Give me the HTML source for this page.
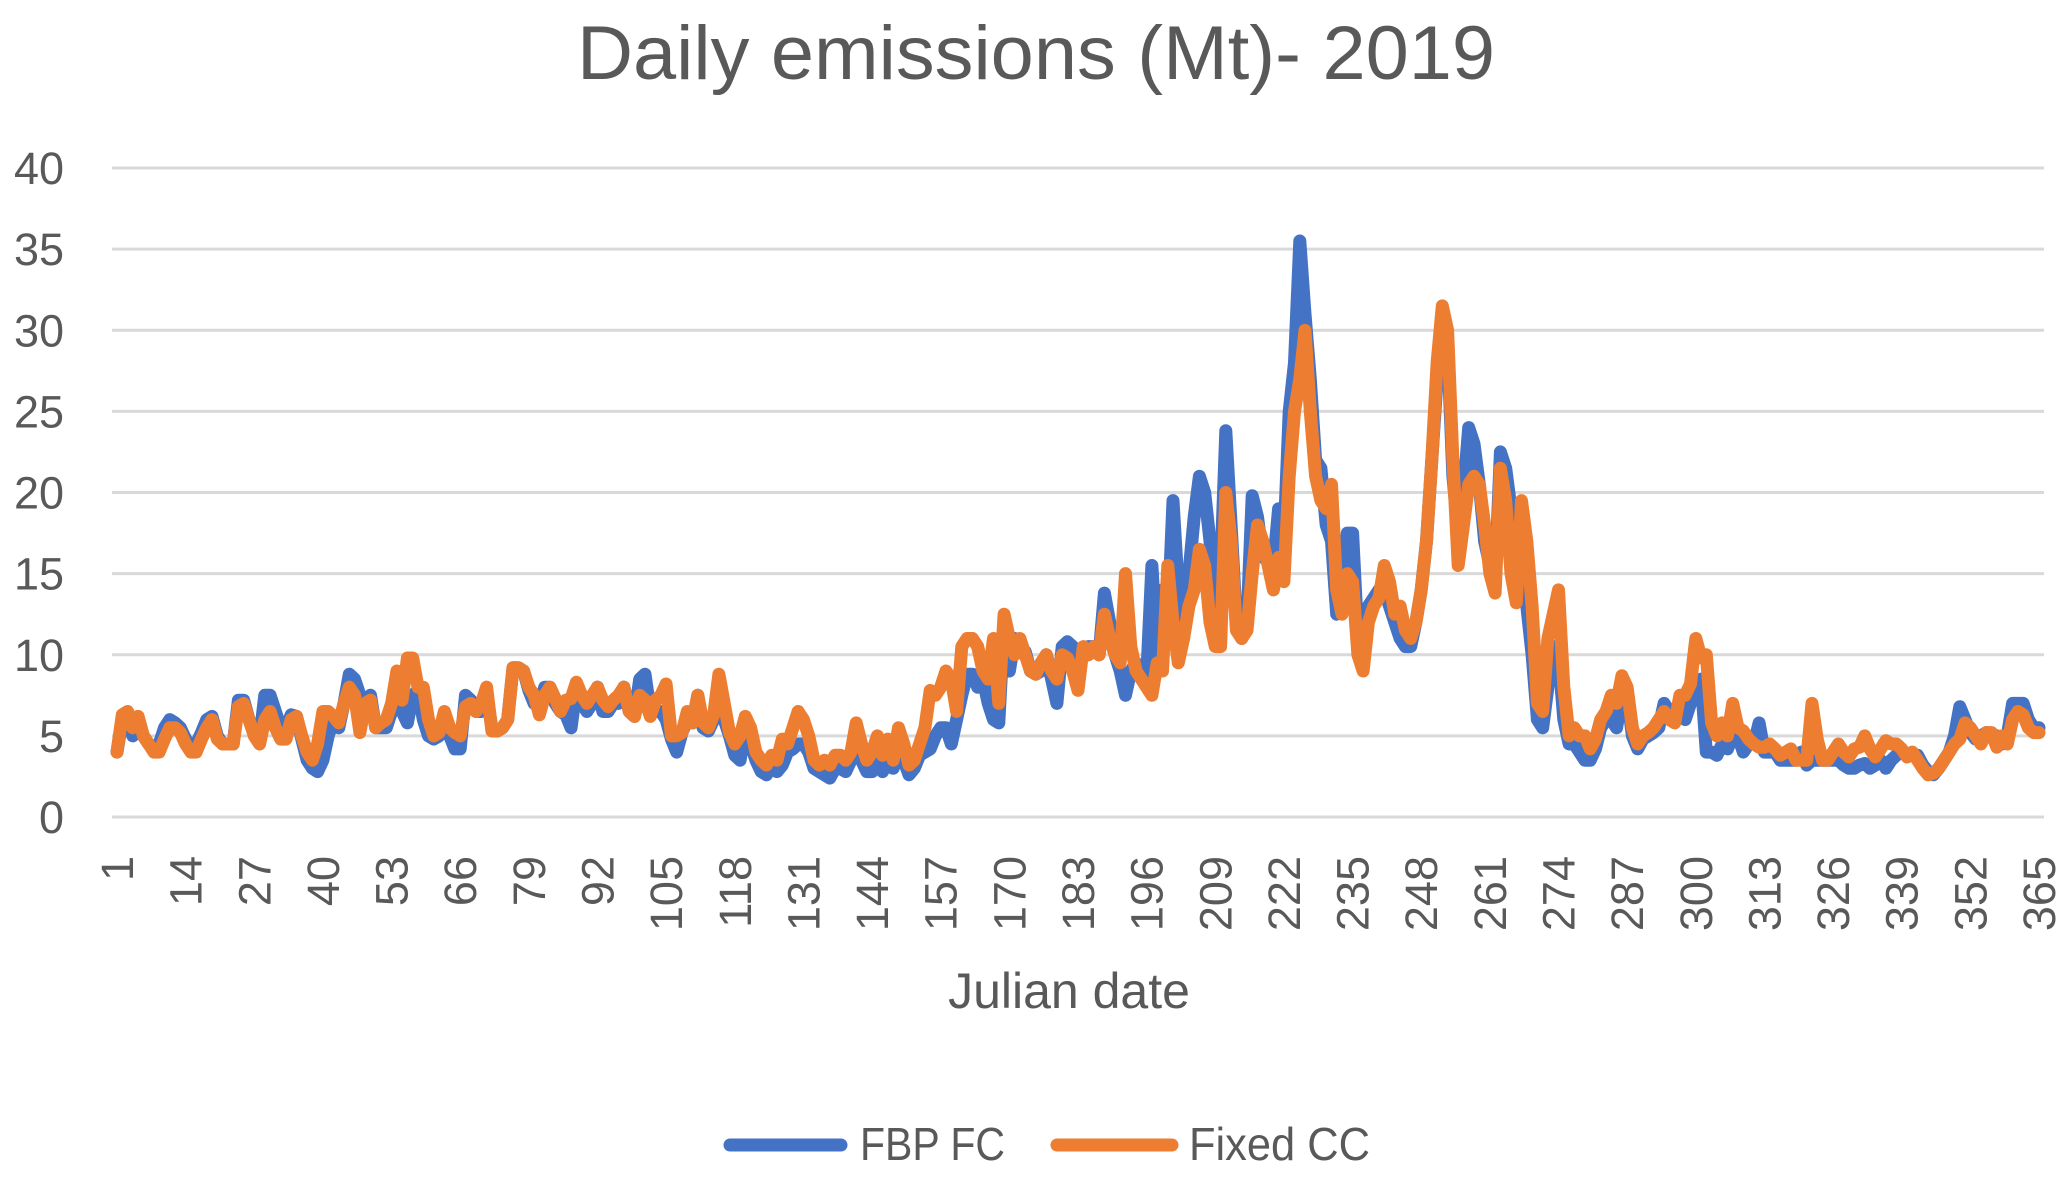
<!DOCTYPE html>
<html><head><meta charset="utf-8"><style>
html,body{margin:0;padding:0;background:#fff;}
svg{display:block;font-family:"Liberation Sans",sans-serif;}
</style></head><body>
<svg id="chart" width="2067" height="1179" viewBox="0 0 2067 1179">
<text x="1036" y="79" font-size="76" fill="#595959" text-anchor="middle" textLength="918" lengthAdjust="spacingAndGlyphs">Daily emissions (Mt)- 2019</text>
<g id="grid"></g>
<g id="yticks"></g>
<g id="xticks"></g>
<g id="series"></g>
<text x="1069" y="1008" font-size="50" fill="#595959" text-anchor="middle">Julian date</text>
<g>
<g>
<line x1="730" y1="1145" x2="841" y2="1145" stroke="#4472C4" stroke-width="13" stroke-linecap="round"/>
<text x="860" y="1160" font-size="46" fill="#595959" textLength="145" lengthAdjust="spacingAndGlyphs">FBP FC</text>
</g>
<g>
<line x1="1057" y1="1145" x2="1172" y2="1145" stroke="#ED7D31" stroke-width="13" stroke-linecap="round"/>
<text x="1189" y="1160" font-size="46" fill="#595959" textLength="181" lengthAdjust="spacingAndGlyphs">Fixed CC</text>
</g>
</g>
</svg>
<script>
const yTicks = [0,5,10,15,20,25,30,35,40];
const xTickDays = [1,14,27,40,53,66,79,92,105,118,131,144,157,170,183,196,209,222,235,248,261,274,287,300,313,326,339,352,365];
const fixedCC = [
4,6.3,6.5,5.5,6.2,5,4.5,4,4,4.8,5.5,5.5,5.2,
4.5,4,4,4.8,5.5,6,4.8,4.5,4.5,4.5,6.8,7,6,
5,4.5,6,6.5,5.5,4.8,4.8,6,6.2,5,4,3.5,4.5,
6.5,6.5,6.2,5.8,7,8,7.5,5.2,7,7.2,5.5,5.8,6,
7,9,7.2,9.8,9.8,8,8,6,5,5.2,6.5,5.5,5.2,
5,6.8,7,6.5,7,8,5.3,5.3,5.5,6,9.2,9.2,9,
8,7.5,6.3,7.5,8,7.3,6.5,7.2,7.3,8.3,7.5,7,7.5,
8,7.2,6.8,7.2,7.5,8,6.5,6.2,7.5,7.2,6.2,7.2,7.5,
8.2,5,5,5.2,6.5,5.8,7.5,5.8,5.5,6.3,8.8,7,5.2,
4.5,5,6.2,5.5,4,3.5,3.2,3.8,3.5,4.8,4.5,5.5,6.5,
6,5,3.5,3.2,3.5,3.2,3.8,3.8,3.5,4,5.8,4.5,3.5,
4,5,3.8,4.8,3.5,5.5,4.5,3.2,3.5,4.5,5.5,7.8,7.5,
8,9,8.5,6.5,10.5,11,11,10.5,9,8.5,11,7,12.5,
11,10,11,10,9,8.8,9.5,10,9,8.5,10,9.8,9,
7.8,10.5,10,10.5,10,12.5,11,10,9.5,15,10.5,9,8.5,
8,7.5,9.5,9,15.5,12,9.5,11,13,14,16.5,15.5,12,
10.5,10.5,20,17,11.5,11,11.5,15,18,17,15.5,14,16,
14.5,21,25,27,30,25,21,19.5,19,20.5,14,12.5,15,
14.5,10,9,12,13,13.5,15.5,14.5,12.5,13,11.5,11,12,
14,17,22,28,31.5,30,22,15.5,18,20.5,21,20.5,18,
15,13.8,21.5,19.5,15,13.2,19.5,17,13,7,6.5,11,12.5,
14,8,5,5.5,5,5,4.2,4.8,6,6.5,7.5,7,8.7,
8,5.5,4.5,5,5.2,5.5,6,6.5,6,5.8,7.5,7.5,8.2,
11,9.8,10,5.8,5,5.8,5,7,5.5,5.3,4.8,4.5,4.3,
4.3,4.5,4.2,3.8,4,4.2,3.5,3.5,3.5,7,4.8,3.5,3.5,
4,4.5,4,3.7,4.2,4.3,5,4.2,3.7,4.2,4.7,4.5,4.5,
4.2,3.7,4,3.5,3,2.6,2.7,3,3.5,4,4.5,4.8,5.8,
5.5,5,4.5,5.2,5.2,4.3,5,4.5,6,6.5,6.3,5.5,5.2,5.2];
const fbpFC = [
4,6,6,5,5.5,5,4.5,4.3,4.5,5.5,6,5.8,5.5,
4.8,4.3,4.5,5.2,6,6.2,5,4.5,4.5,4.5,7.2,7.2,6,
5.2,4.8,7.5,7.5,6.5,5.5,5.5,6.3,6.2,4.8,3.5,3,2.8,
3.5,5,6,5.5,7,8.8,8.5,7.5,7.2,7.5,5.5,5.5,5.5,
6.5,7.5,6.5,5.8,7.5,7.8,6,5,4.8,5,5.8,5,4.2,
4.2,7.5,7.2,6.5,6.5,7.5,5.5,5.3,5.5,6,9.2,9.2,9,
7.8,7,6.8,8,8,7,6.5,6.3,5.5,8,7,6.5,7,
8,6.5,6.5,7,7,8,6.5,6.2,8.5,8.8,6.5,6.5,6.5,
6,4.8,4,5.2,6,5.8,7.5,5.5,5.3,6,7,6,5,
3.8,3.5,5.5,4.5,3.5,2.8,2.6,3.2,2.8,3.2,4,4.2,4.5,
4.5,4,3,2.8,2.6,2.4,3,3,2.8,3.5,4.5,3.5,2.8,
2.8,3.5,2.8,3.5,3,4,3.5,2.6,3,3.8,4,4.2,5,
5.5,5.5,4.5,6,7.5,8.8,8.8,8,8.5,7,6,5.8,12,
9,11,10.5,10.2,9,8.8,9,10,8.5,7,10.5,10.8,10.5,
10,10,10.5,10.5,10,13.8,12,10,9,7.5,9,9.5,8.5,
8.5,15.5,10,14,12,19.5,14,11,15,18.5,21,20,17,
12.5,15,23.8,18,12,11,12,19.8,18.5,16,16.5,15.5,19,
17,25,28,35.5,31,27,22,21.5,18,17,12.5,14.5,17.5,
17.5,11,9.5,13,13.5,14,14,13,12,11,10.5,10.5,12,
14,17,22,27,31,29,21,17.5,20,24,23,20.5,17,
15.5,14.5,22.5,21.5,19,16,17,13,10,6,5.5,8,10.5,
10,6,4.5,4.5,4,3.5,3.5,4.2,5.5,6,6,5.5,7.5,
7.5,5,4.2,4.8,5,5.2,5.5,7,6.5,6,7,6,7,
7.5,8.5,4,4,3.8,4.5,4.2,5,5,4,4.5,4.5,5.8,
4,4,4,3.5,3.5,3.5,3.5,4,3.2,3.5,3.5,3.5,3.5,
3.5,3.5,3.2,3,3,3.2,3.3,3,3.2,3.5,3,3.5,3.8,
4,3.8,3.8,3.8,3.2,2.8,2.6,3,3.5,4,5,6.8,6,
5.2,4.8,5,5.2,5,5,4.5,5,7,7,7,6,5.5,5.5];

const NS = 'http://www.w3.org/2000/svg';
const PL = 112, PR = 2044, Y0 = 817, Y40 = 168;
const D1 = 117, D365 = 2039;
function xScale(d){ return D1 + (d - 1) * (D365 - D1) / 364; }
function yScale(v){ return Y0 - v * (Y0 - Y40) / 40; }

const grid = document.getElementById('grid');
const yt = document.getElementById('yticks');
yTicks.forEach(v => {
  const l = document.createElementNS(NS, 'line');
  l.setAttribute('x1', PL); l.setAttribute('x2', PR);
  l.setAttribute('y1', yScale(v)); l.setAttribute('y2', yScale(v));
  l.setAttribute('stroke', '#d9d9d9'); l.setAttribute('stroke-width', '3');
  
  
  grid.appendChild(l);
  const t = document.createElementNS(NS, 'text');
  t.setAttribute('x', 64); t.setAttribute('y', yScale(v) + 16);
  t.setAttribute('font-size', '45'); t.setAttribute('fill', '#595959');
  t.setAttribute('text-anchor', 'end');
  t.textContent = v;
  
  
  yt.appendChild(t);
});

const xt = document.getElementById('xticks');
xTickDays.forEach(d => {
  const t = document.createElementNS(NS, 'text');
  const x = xScale(d) + 16, y = 856;
  t.setAttribute('x', x); t.setAttribute('y', y);
  t.setAttribute('transform', 'rotate(-90 ' + x + ' ' + y + ')');
  t.setAttribute('font-size', '45'); t.setAttribute('fill', '#595959');
  t.setAttribute('text-anchor', 'end');
  t.textContent = d;
  
  
  xt.appendChild(t);
});

const sg = document.getElementById('series');
function drawLine(vals, color, name){
  const pts = vals.map((v, i) => xScale(i + 1).toFixed(1) + ',' + yScale(v).toFixed(1)).join(' ');
  const p = document.createElementNS(NS, 'polyline');
  p.setAttribute('points', pts);
  p.setAttribute('fill', 'none'); p.setAttribute('stroke', color);
  p.setAttribute('stroke-width', '13');
  p.setAttribute('stroke-linejoin', 'round'); p.setAttribute('stroke-linecap', 'round');
  
  
  sg.appendChild(p);
}
drawLine(fbpFC, '#4472C4', 'series-fbp-fc');
drawLine(fixedCC, '#ED7D31', 'series-fixed-cc');
</script>
</body></html>
